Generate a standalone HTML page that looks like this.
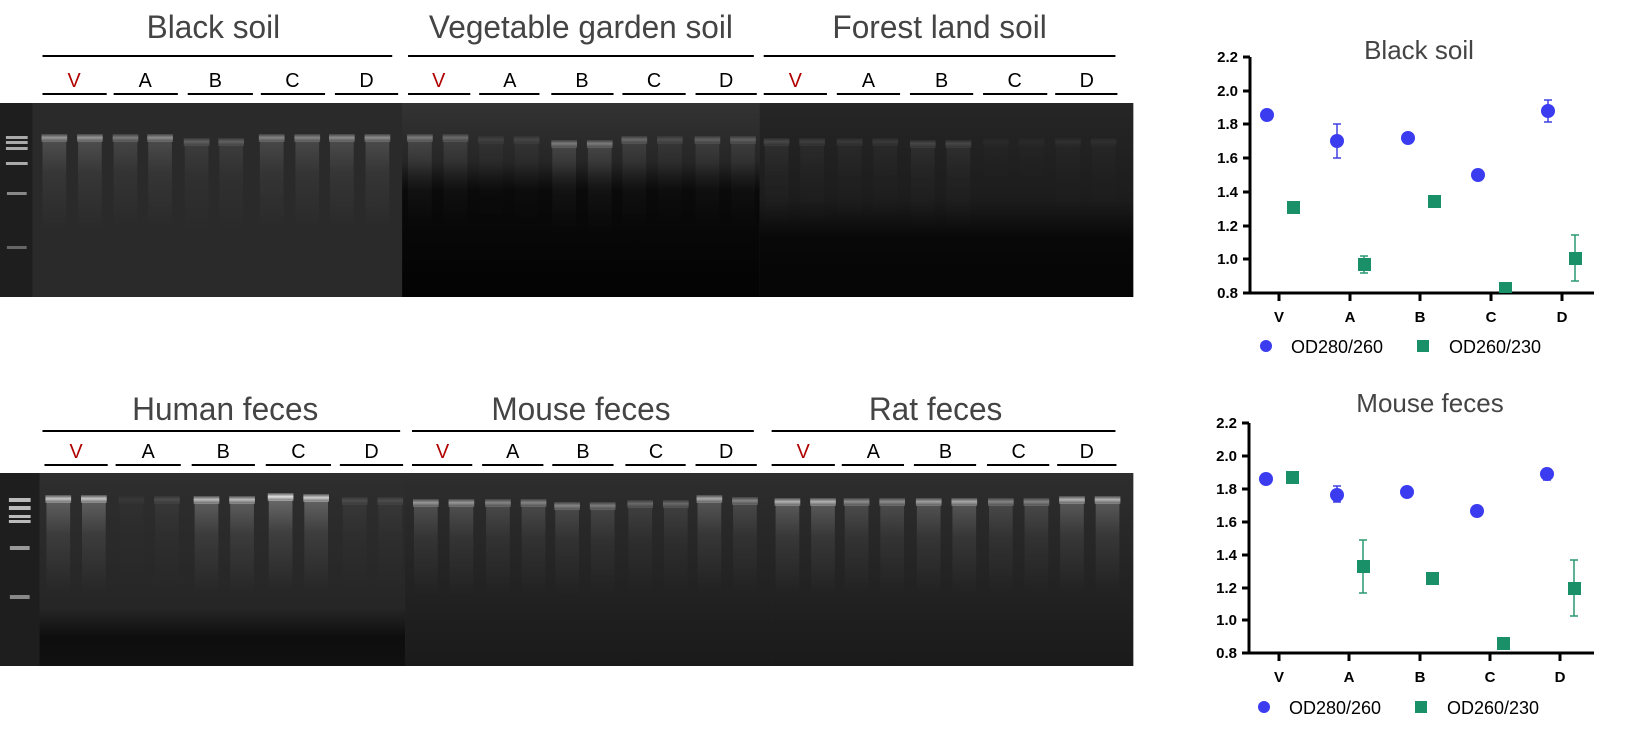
<!DOCTYPE html>
<html><head><meta charset="utf-8"><style>
html,body{margin:0;padding:0;background:#fff;}
svg{display:block;font-family:"Liberation Sans",sans-serif;}
</style></head><body>
<svg width="1650" height="735" viewBox="0 0 1650 735" xmlns="http://www.w3.org/2000/svg">
<defs>
<linearGradient id="sm" x1="0" y1="0" x2="0" y2="1"><stop offset="0" stop-color="#fff" stop-opacity="0.28"/><stop offset="0.35" stop-color="#fff" stop-opacity="0.1"/><stop offset="1" stop-color="#fff" stop-opacity="0"/></linearGradient>
<linearGradient id="bd" x1="0" y1="0" x2="0" y2="1"><stop offset="0" stop-color="#fff" stop-opacity="0.2"/><stop offset="0.45" stop-color="#fff" stop-opacity="0.85"/><stop offset="1" stop-color="#fff" stop-opacity="0.3"/></linearGradient>
<linearGradient id="veg" x1="0" y1="0" x2="0" y2="1"><stop offset="0" stop-color="#333"/><stop offset="0.3" stop-color="#262626"/><stop offset="0.45" stop-color="#0a0a0a"/><stop offset="1" stop-color="#030303"/></linearGradient>
<linearGradient id="for" x1="0" y1="0" x2="0" y2="1"><stop offset="0" stop-color="#262626"/><stop offset="0.5" stop-color="#1c1c1c"/><stop offset="0.7" stop-color="#080808"/><stop offset="1" stop-color="#050505"/></linearGradient>
<linearGradient id="hum" x1="0" y1="0" x2="0" y2="1"><stop offset="0" stop-color="#2e2e2e"/><stop offset="0.7" stop-color="#262626"/><stop offset="0.85" stop-color="#0e0e0e"/><stop offset="1" stop-color="#101010"/></linearGradient>
<linearGradient id="mou" x1="0" y1="0" x2="0" y2="1"><stop offset="0" stop-color="#2e2e2e"/><stop offset="1" stop-color="#1a1a1a"/></linearGradient>
<symbol id="ln" overflow="visible"><rect x="1" y="7" width="24" height="90" fill="url(#sm)"/><rect x="0" y="0" width="26" height="8" fill="url(#bd)"/></symbol>
</defs>

<g transform="scale(0.988 1)">
<rect x="0" y="103" width="1147" height="194" fill="#2b2b2b"/>
<rect x="0" y="103" width="33" height="194" fill="#1e1e1e"/>
<rect x="33" y="103" width="374" height="194" fill="#2a2a2a"/>
<rect x="407" y="103" width="362" height="194" fill="url(#veg)"/>
<rect x="769" y="103" width="378" height="194" fill="url(#for)"/>
<g fill="#aaa">
<rect x="6" y="136" width="22" height="3"/><rect x="6" y="141" width="22" height="3"/><rect x="6" y="147" width="22" height="3"/><rect x="6" y="162" width="22" height="3"/><rect x="7" y="192" width="20" height="3" fill="#888"/><rect x="7" y="246" width="20" height="3" fill="#666"/>
</g>
<g>
<use href="#ln" x="42" y="134" opacity="0.6"/><use href="#ln" x="78" y="134" opacity="0.6"/>
<use href="#ln" x="114" y="134" opacity="0.45"/><use href="#ln" x="149" y="134" opacity="0.55"/>
<use href="#ln" x="186" y="138" opacity="0.3"/><use href="#ln" x="221" y="138" opacity="0.3"/>
<use href="#ln" x="262" y="134" opacity="0.5"/><use href="#ln" x="298" y="134" opacity="0.5"/>
<use href="#ln" x="333" y="134" opacity="0.55"/><use href="#ln" x="369" y="134" opacity="0.55"/>
<use href="#ln" x="412" y="134" opacity="0.45"/><use href="#ln" x="448" y="134" opacity="0.35"/>
<use href="#ln" x="484" y="136" opacity="0.12"/><use href="#ln" x="520" y="136" opacity="0.15"/>
<use href="#ln" x="558" y="140" opacity="0.45"/><use href="#ln" x="594" y="140" opacity="0.45"/>
<use href="#ln" x="629" y="136" opacity="0.35"/><use href="#ln" x="665" y="136" opacity="0.2"/>
<use href="#ln" x="703" y="136" opacity="0.3"/><use href="#ln" x="739" y="136" opacity="0.3"/>
<use href="#ln" x="773" y="138" opacity="0.2"/><use href="#ln" x="809" y="138" opacity="0.15"/>
<use href="#ln" x="847" y="138" opacity="0.12"/><use href="#ln" x="883" y="138" opacity="0.12"/>
<use href="#ln" x="921" y="140" opacity="0.2"/><use href="#ln" x="957" y="140" opacity="0.2"/>
<use href="#ln" x="995" y="138" opacity="0.04"/><use href="#ln" x="1031" y="138" opacity="0.04"/>
<use href="#ln" x="1068" y="138" opacity="0.07"/><use href="#ln" x="1104" y="138" opacity="0.07"/>
</g>

<rect x="0" y="473" width="1147" height="193" fill="#2a2a2a"/>
<rect x="0" y="473" width="40" height="193" fill="#1e1e1e"/>
<rect x="40" y="473" width="370" height="193" fill="url(#hum)"/>
<rect x="410" y="473" width="371" height="193" fill="url(#mou)"/>
<rect x="781" y="473" width="366" height="193" fill="url(#mou)"/>
<g fill="#bbb">
<rect x="9" y="498" width="22" height="4"/><rect x="9" y="506" width="22" height="4"/><rect x="9" y="515" width="22" height="3"/><rect x="9" y="520" width="22" height="3"/><rect x="10" y="546" width="20" height="4" fill="#999"/><rect x="10" y="595" width="20" height="4" fill="#888"/>
</g>
<g>
<use href="#ln" x="46" y="495" opacity="0.85"/><use href="#ln" x="82" y="495" opacity="0.85"/>
<use href="#ln" x="120" y="496" opacity="0.06"/><use href="#ln" x="156" y="496" opacity="0.18"/>
<use href="#ln" x="196" y="496" opacity="0.8"/><use href="#ln" x="232" y="496" opacity="0.8"/>
<use href="#ln" x="271" y="493" opacity="1"/><use href="#ln" x="307" y="494" opacity="0.9"/>
<use href="#ln" x="346" y="497" opacity="0.18"/><use href="#ln" x="382" y="497" opacity="0.18"/>
<use href="#ln" x="418" y="499" opacity="0.6"/><use href="#ln" x="454" y="499" opacity="0.6"/>
<use href="#ln" x="491" y="499" opacity="0.5"/><use href="#ln" x="527" y="499" opacity="0.5"/>
<use href="#ln" x="561" y="502" opacity="0.5"/><use href="#ln" x="597" y="502" opacity="0.45"/>
<use href="#ln" x="635" y="500" opacity="0.35"/><use href="#ln" x="671" y="500" opacity="0.35"/>
<use href="#ln" x="705" y="495" opacity="0.7"/><use href="#ln" x="741" y="497" opacity="0.5"/>
<use href="#ln" x="784" y="498" opacity="0.75"/><use href="#ln" x="820" y="498" opacity="0.75"/>
<use href="#ln" x="854" y="498" opacity="0.55"/><use href="#ln" x="890" y="498" opacity="0.55"/>
<use href="#ln" x="927" y="498" opacity="0.65"/><use href="#ln" x="963" y="498" opacity="0.7"/>
<use href="#ln" x="1000" y="498" opacity="0.5"/><use href="#ln" x="1036" y="498" opacity="0.5"/>
<use href="#ln" x="1072" y="496" opacity="0.75"/><use href="#ln" x="1108" y="496" opacity="0.75"/>
</g>

<g font-size="32" fill="#444" text-anchor="middle">
<text x="216" y="38">Black soil</text>
<text x="588" y="38">Vegetable garden soil</text>
<text x="951" y="38">Forest land soil</text>
<text x="228" y="420">Human feces</text>
<text x="588" y="420">Mouse feces</text>
<text x="947" y="420">Rat feces</text>
</g>
<g stroke="#000" stroke-width="2">
<line x1="43" y1="56" x2="397" y2="56"/><line x1="413" y1="56" x2="763" y2="56"/><line x1="773" y1="56" x2="1129" y2="56"/>
<line x1="43" y1="94" x2="108" y2="94"/><line x1="115" y1="94" x2="180" y2="94"/><line x1="190" y1="94" x2="256" y2="94"/><line x1="264" y1="94" x2="329" y2="94"/><line x1="339" y1="94" x2="403" y2="94"/>
<line x1="413" y1="94" x2="476" y2="94"/><line x1="485" y1="94" x2="546" y2="94"/><line x1="558" y1="94" x2="621" y2="94"/><line x1="630" y1="94" x2="694" y2="94"/><line x1="704" y1="94" x2="766" y2="94"/>
<line x1="773" y1="94" x2="837" y2="94"/><line x1="847" y1="94" x2="911" y2="94"/><line x1="921" y1="94" x2="985" y2="94"/><line x1="995" y1="94" x2="1060" y2="94"/><line x1="1068" y1="94" x2="1131" y2="94"/>
<line x1="43" y1="431" x2="405" y2="431"/><line x1="417" y1="431" x2="763" y2="431"/><line x1="781" y1="431" x2="1129" y2="431"/>
<line x1="45" y1="465" x2="109" y2="465"/><line x1="117" y1="465" x2="183" y2="465"/><line x1="194" y1="465" x2="258" y2="465"/><line x1="269" y1="465" x2="335" y2="465"/><line x1="344" y1="465" x2="408" y2="465"/>
<line x1="417" y1="465" x2="478" y2="465"/><line x1="488" y1="465" x2="550" y2="465"/><line x1="559" y1="465" x2="621" y2="465"/><line x1="633" y1="465" x2="694" y2="465"/><line x1="704" y1="465" x2="766" y2="465"/>
<line x1="781" y1="465" x2="845" y2="465"/><line x1="852" y1="465" x2="915" y2="465"/><line x1="925" y1="465" x2="988" y2="465"/><line x1="999" y1="465" x2="1062" y2="465"/><line x1="1070" y1="465" x2="1130" y2="465"/>
</g>
<g font-size="20" text-anchor="middle" fill="#000">
<text x="75" y="87" fill="#b00000">V</text><text x="147" y="87">A</text><text x="218" y="87">B</text><text x="296" y="87">C</text><text x="371" y="87">D</text>
<text x="444" y="87" fill="#b00000">V</text><text x="516" y="87">A</text><text x="589" y="87">B</text><text x="662" y="87">C</text><text x="735" y="87">D</text>
<text x="805" y="87" fill="#b00000">V</text><text x="879" y="87">A</text><text x="953" y="87">B</text><text x="1027" y="87">C</text><text x="1100" y="87">D</text>
<text x="77" y="458" fill="#b00000">V</text><text x="150" y="458">A</text><text x="226" y="458">B</text><text x="302" y="458">C</text><text x="376" y="458">D</text>
<text x="448" y="458" fill="#b00000">V</text><text x="519" y="458">A</text><text x="590" y="458">B</text><text x="664" y="458">C</text><text x="735" y="458">D</text>
<text x="813" y="458" fill="#b00000">V</text><text x="884" y="458">A</text><text x="957" y="458">B</text><text x="1031" y="458">C</text><text x="1100" y="458">D</text>
</g>
</g>

<g>
<text x="1419" y="59" font-size="26" fill="#444" text-anchor="middle">Black soil</text>
<g stroke="#000" stroke-width="3" fill="none">
<path d="M1250 57 V293 H1594"/>
<path d="M1243 57H1250M1243 91H1250M1243 124H1250M1243 158H1250M1243 192H1250M1243 226H1250M1243 259H1250M1243 293H1250"/>
<path d="M1279 293V301M1350 293V301M1420 293V301M1491 293V301M1562 293V301"/>
</g>
<g font-size="15" font-weight="bold" text-anchor="end">
<text x="1238" y="62">2.2</text><text x="1238" y="96">2.0</text><text x="1238" y="129">1.8</text><text x="1238" y="163">1.6</text><text x="1238" y="197">1.4</text><text x="1238" y="231">1.2</text><text x="1238" y="264">1.0</text><text x="1238" y="298">0.8</text>
</g>
<g font-size="15" font-weight="bold" text-anchor="middle">
<text x="1279" y="322">V</text><text x="1350" y="322">A</text><text x="1420" y="322">B</text><text x="1491" y="322">C</text><text x="1562" y="322">D</text>
</g>
<g stroke="#4040e0" stroke-width="1.5"><path d="M1337 124V158M1333 124H1341M1333 158H1341M1548 100V122M1544 100H1552M1544 122H1552"/></g>
<g stroke="#2a9a70" stroke-width="1.5"><path d="M1364 256V273M1360 256H1368M1360 273H1368M1575 235V281M1571 235H1579M1571 281H1579"/></g>
<g fill="#3b3bf0"><circle cx="1267" cy="115" r="7"/><circle cx="1337" cy="141" r="7"/><circle cx="1408" cy="138" r="7"/><circle cx="1478" cy="175" r="7"/><circle cx="1548" cy="111" r="7"/></g>
<g fill="#1a9068"><rect x="1287" y="201" width="13" height="13"/><rect x="1358" y="258" width="13" height="13"/><rect x="1428" y="195" width="13" height="13"/><rect x="1499" y="282" width="13" height="11"/><rect x="1569" y="252" width="13" height="13"/></g>
<circle cx="1266" cy="346" r="6" fill="#3b3bf0"/><text x="1291" y="353" font-size="18">OD280/260</text>
<rect x="1417" y="340" width="12" height="12" fill="#1a9068"/><text x="1449" y="353" font-size="18">OD260/230</text>
</g>

<g>
<text x="1430" y="412" font-size="26" fill="#444" text-anchor="middle">Mouse feces</text>
<g stroke="#000" stroke-width="3" fill="none">
<path d="M1249 423 V653 H1594"/>
<path d="M1242 423H1249M1242 456H1249M1242 489H1249M1242 522H1249M1242 555H1249M1242 588H1249M1242 620H1249M1242 653H1249"/>
<path d="M1279 653V661M1349 653V661M1420 653V661M1490 653V661M1560 653V661"/>
</g>
<g font-size="15" font-weight="bold" text-anchor="end">
<text x="1237" y="428">2.2</text><text x="1237" y="461">2.0</text><text x="1237" y="494">1.8</text><text x="1237" y="527">1.6</text><text x="1237" y="560">1.4</text><text x="1237" y="593">1.2</text><text x="1237" y="625">1.0</text><text x="1237" y="658">0.8</text>
</g>
<g font-size="15" font-weight="bold" text-anchor="middle">
<text x="1279" y="682">V</text><text x="1349" y="682">A</text><text x="1420" y="682">B</text><text x="1490" y="682">C</text><text x="1560" y="682">D</text>
</g>
<g stroke="#4040e0" stroke-width="1.5"><path d="M1337 486V502M1333 486H1341M1333 502H1341M1547 469V480M1543 469H1551M1543 480H1551"/></g>
<g stroke="#2a9a70" stroke-width="1.5"><path d="M1363 540V593M1359 540H1367M1359 593H1367M1574 560V616M1570 560H1578M1570 616H1578"/></g>
<g fill="#3b3bf0"><circle cx="1266" cy="479" r="7"/><circle cx="1337" cy="495" r="7"/><circle cx="1407" cy="492" r="7"/><circle cx="1477" cy="511" r="7"/><circle cx="1547" cy="474" r="7"/></g>
<g fill="#1a9068"><rect x="1286" y="471" width="13" height="13"/><rect x="1357" y="560" width="13" height="13"/><rect x="1426" y="572" width="13" height="13"/><rect x="1497" y="637" width="13" height="13"/><rect x="1568" y="582" width="13" height="13"/></g>
<circle cx="1264" cy="707" r="6" fill="#3b3bf0"/><text x="1289" y="714" font-size="18">OD280/260</text>
<rect x="1415" y="701" width="12" height="12" fill="#1a9068"/><text x="1447" y="714" font-size="18">OD260/230</text>
</g>
</svg>
</body></html>
